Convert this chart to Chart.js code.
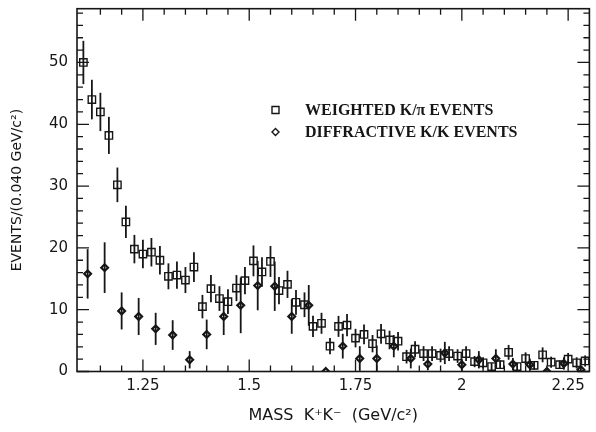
<!DOCTYPE html>
<html>
<head>
<meta charset="utf-8">
<script src="https://cdn.jsdelivr.net/npm/chart.js@4.4.0/dist/chart.umd.min.js"></script>
<style>
    html, body { margin: 0; padding: 0; background: #fff; }
</style>
</head>
<body>
<canvas id="massChart" width="596" height="432"></canvas>
<script>
// weighted K/pi events, 0.02 GeV steps
const weightedMass = [1.11, 1.13, 1.15, 1.17, 1.19, 1.21, 1.23, 1.25, 1.27, 1.29,
    1.31, 1.33, 1.35, 1.37, 1.39, 1.41, 1.43, 1.45, 1.47, 1.49,
    1.51, 1.53, 1.55, 1.57, 1.59, 1.61, 1.63, 1.65, 1.67, 1.69,
    1.71, 1.73, 1.75, 1.77, 1.79, 1.81, 1.83, 1.85, 1.87, 1.89,
    1.91, 1.93, 1.95, 1.97, 1.99, 2.01, 2.03, 2.05, 2.07, 2.09,
    2.11, 2.13, 2.15, 2.17, 2.19, 2.21, 2.23, 2.25, 2.27, 2.29];
const weightedEvents = [50, 44, 42, 38.2, 30.2, 24.2, 19.8, 19, 19.3, 18,
    15.4, 15.6, 14.8, 16.9, 10.5, 13.4, 11.8, 11.3, 13.5, 14.7,
    17.9, 16.1, 17.8, 13.1, 14.1, 11.2, 10.8, 7.3, 7.8, 4.1,
    7.3, 7.5, 5.4, 6.0, 4.5, 6.1, 5.1, 4.9, 2.4, 3.6,
    2.9, 2.9, 2.6, 2.9, 2.5, 2.9, 1.6, 1.4, 0.8, 1.1,
    3.1, 0.8, 2.1, 1.0, 2.7, 1.5, 1.1, 2.0, 1.4, 1.7];
const weightedErr = [3.5, 3.2, 3.1, 3.0, 2.8, 2.6, 2.3, 2.3, 2.3, 2.3,
    2.1, 2.2, 2.1, 2.4, 1.9, 2.2, 2.0, 2.0, 2.1, 2.2,
    2.5, 2.4, 2.5, 2.2, 2.2, 2.0, 2.0, 1.7, 1.7, 1.3,
    1.7, 1.8, 1.5, 1.6, 1.4, 1.6, 1.5, 1.5, 1.1, 1.3,
    1.2, 1.2, 1.1, 1.2, 1.1, 1.2, 0.9, 0.9, 0.6, 0.7,
    1.2, 0.6, 1.0, 0.7, 1.2, 0.9, 0.7, 1.0, 0.9, 0.9];

// diffractive K/K events, 0.04 GeV steps
const diffMass = [1.12, 1.16, 1.20, 1.24, 1.28, 1.32, 1.36, 1.40, 1.44, 1.48,
    1.52, 1.56, 1.60, 1.64, 1.68, 1.72, 1.76, 1.80, 1.84, 1.88,
    1.92, 1.96, 2.00, 2.04, 2.08, 2.12, 2.16, 2.20, 2.24, 2.28];
const diffEvents = [15.8, 16.8, 9.8, 8.9, 6.9, 5.9, 1.9, 6.0, 8.9, 10.7,
    13.9, 13.8, 8.9, 10.7, 0, 4.1, 2.1, 2.1, 4.1, 2.1,
    1.2, 3.0, 1.1, 1.9, 2.1, 1.2, 1.1, 0, 1.3, 0.3];
const diffErr = [4.0, 4.1, 3.0, 3.0, 2.6, 2.4, 1.4, 2.4, 3.0, 4.5,
    4.0, 4.0, 2.8, 3.3, 0, 2.0, 2.0, 2.1, 1.8, 1.6,
    1.0, 1.8, 1.0, 1.4, 1.5, 1.0, 1.0, 0, 1.0, 0.5];

const xMajorTicks = [1.25, 1.5, 1.75, 2, 2.25];
const xMinorTicks = [1.15, 1.2, 1.3, 1.35, 1.4, 1.45, 1.55, 1.6, 1.65, 1.7,
    1.8, 1.85, 1.9, 1.95, 2.05, 2.1, 2.15, 2.2];
const yMajorTicks = [0, 10, 20, 30, 40, 50];
const yMinorTicks = [2, 4, 6, 8, 12, 14, 16, 18, 22, 24, 26, 28, 32, 34, 36, 38,
    42, 44, 46, 48, 52, 54, 56, 58];

const ink = '#161616';
const sansFont = '"DejaVu Sans", sans-serif';

function toPoints(xs, ys) {
    return xs.map((m, i) => ({x: m, y: ys[i]}));
}

// keep the plot box where the layout padding puts it
function noLabelPadding(s) {
    s.paddingTop = 0;
    s.paddingBottom = 0;
    s.paddingLeft = 0;
    s.paddingRight = 0;
}

// vertical error bars, drawn under the markers
const errorBars = {
    id: 'errorBars',
    beforeDatasetsDraw(chart) {
        const {ctx, scales: {x, y}} = chart;
        ctx.save();
        ctx.strokeStyle = ink;
        ctx.lineWidth = 1.8;
        chart.data.datasets.forEach(ds => {
            ds.data.forEach((p, i) => {
                const e = ds.errors[i];
                if (!e) return;
                const px = x.getPixelForValue(p.x);
                ctx.beginPath();
                ctx.moveTo(px, y.getPixelForValue(Math.max(0, p.y - e)));
                ctx.lineTo(px, y.getPixelForValue(p.y + e));
                ctx.stroke();
            });
        });
        ctx.restore();
    }
};

// box frame with inward ticks on all four sides
const frameTicks = {
    id: 'frameTicks',
    afterDraw(chart) {
        const {ctx, chartArea: a, scales: {x, y}} = chart;
        ctx.save();
        ctx.strokeStyle = ink;
        ctx.lineWidth = 1.6;
        ctx.strokeRect(a.left, a.top, a.right - a.left, a.bottom - a.top);
        ctx.lineWidth = 1.3;
        ctx.beginPath();
        const xt = (v, len) => {
            const px = x.getPixelForValue(v);
            ctx.moveTo(px, a.bottom); ctx.lineTo(px, a.bottom - len);
            ctx.moveTo(px, a.top); ctx.lineTo(px, a.top + len);
        };
        const yt = (v, len) => {
            const py = y.getPixelForValue(v);
            ctx.moveTo(a.left, py); ctx.lineTo(a.left + len, py);
            ctx.moveTo(a.right, py); ctx.lineTo(a.right - len, py);
        };
        xMajorTicks.forEach(v => xt(v, 12));
        xMinorTicks.forEach(v => xt(v, 6));
        yMajorTicks.forEach(v => yt(v, 12));
        yMinorTicks.forEach(v => yt(v, 6));
        ctx.stroke();
        ctx.restore();
    }
};

// legend inside the plot
const insetLegend = {
    id: 'insetLegend',
    afterDraw(chart) {
        const {ctx} = chart;
        const rows = [
            {label: chart.data.datasets[0].label, shape: 'square', y: 110},
            {label: chart.data.datasets[1].label, shape: 'diamond', y: 132}
        ];
        ctx.save();
        ctx.strokeStyle = ink;
        ctx.fillStyle = ink;
        ctx.lineWidth = 1.4;
        ctx.font = 'bold 16px "Liberation Serif", serif';
        ctx.textBaseline = 'middle';
        rows.forEach(r => {
            ctx.beginPath();
            if (r.shape === 'square') {
                ctx.rect(272, r.y - 3.5, 7, 7);
            } else {
                ctx.moveTo(275.5, r.y - 3.5);
                ctx.lineTo(279, r.y);
                ctx.lineTo(275.5, r.y + 3.5);
                ctx.lineTo(272, r.y);
                ctx.closePath();
            }
            ctx.stroke();
            ctx.fillText(r.label, 305, r.y + 1);
        });
        ctx.restore();
    }
};

const massConfig = {
    type: 'scatter',
    data: {
        datasets: [{
                label: 'WEIGHTED K/\u03c0 EVENTS',
                data: toPoints(weightedMass, weightedEvents),
                errors: weightedErr,
                pointStyle: 'rect',
                pointRadius: 5.2,
                borderColor: ink,
                borderWidth: 1.4,
                backgroundColor: 'rgba(0,0,0,0)'
            }, {
                label: 'DIFFRACTIVE K/K EVENTS',
                data: toPoints(diffMass, diffEvents),
                errors: diffErr,
                pointStyle: 'rectRot',
                pointRadius: 3.4,
                borderColor: ink,
                borderWidth: 2.2,
                backgroundColor: 'rgba(0,0,0,0)'
            }]
    },
    options: {
        responsive: false,
        devicePixelRatio: 1,
        animation: false,
        layout: {padding: {top: 8.7, right: 3, left: 0, bottom: 0}},
        plugins: {
            legend: {display: false},
            tooltip: {enabled: false}
        },
        scales: {
            x: {
                type: 'linear',
                min: 1.095,
                max: 2.3,
                grid: {display: false, drawTicks: false},
                border: {display: false},
                afterBuildTicks: s => { s.ticks = xMajorTicks.map(v => ({value: v})); },
                afterFit: s => { s.height = 60.5; noLabelPadding(s); },
                ticks: {
                    color: ink,
                    padding: 6,
                    font: {family: sansFont, size: 15},
                    callback: v => String(v)
                },
                title: {
                    display: true,
                    text: 'MASS  K\u207aK\u207b  (GeV/c\u00b2)',
                    color: ink,
                    font: {family: sansFont, size: 16},
                    padding: {top: 0, bottom: 6.5}
                }
            },
            y: {
                min: 0,
                max: 58.7,
                grid: {display: false, drawTicks: false},
                border: {display: false},
                afterBuildTicks: s => { s.ticks = yMajorTicks.map(v => ({value: v})); },
                afterFit: s => { s.width = 77; noLabelPadding(s); },
                ticks: {
                    color: ink,
                    padding: 9,
                    font: {family: sansFont, size: 15}
                },
                title: {
                    display: true,
                    text: 'EVENTS/(0.040 GeV/c\u00b2)',
                    color: ink,
                    font: {family: sansFont, size: 14},
                    padding: {top: 8.6, bottom: 0}
                }
            }
        }
    },
    plugins: [errorBars, frameTicks, insetLegend]
};

var massChart = new Chart(
        document.getElementById('massChart'),
        massConfig
        );
</script>
</body>
</html>
